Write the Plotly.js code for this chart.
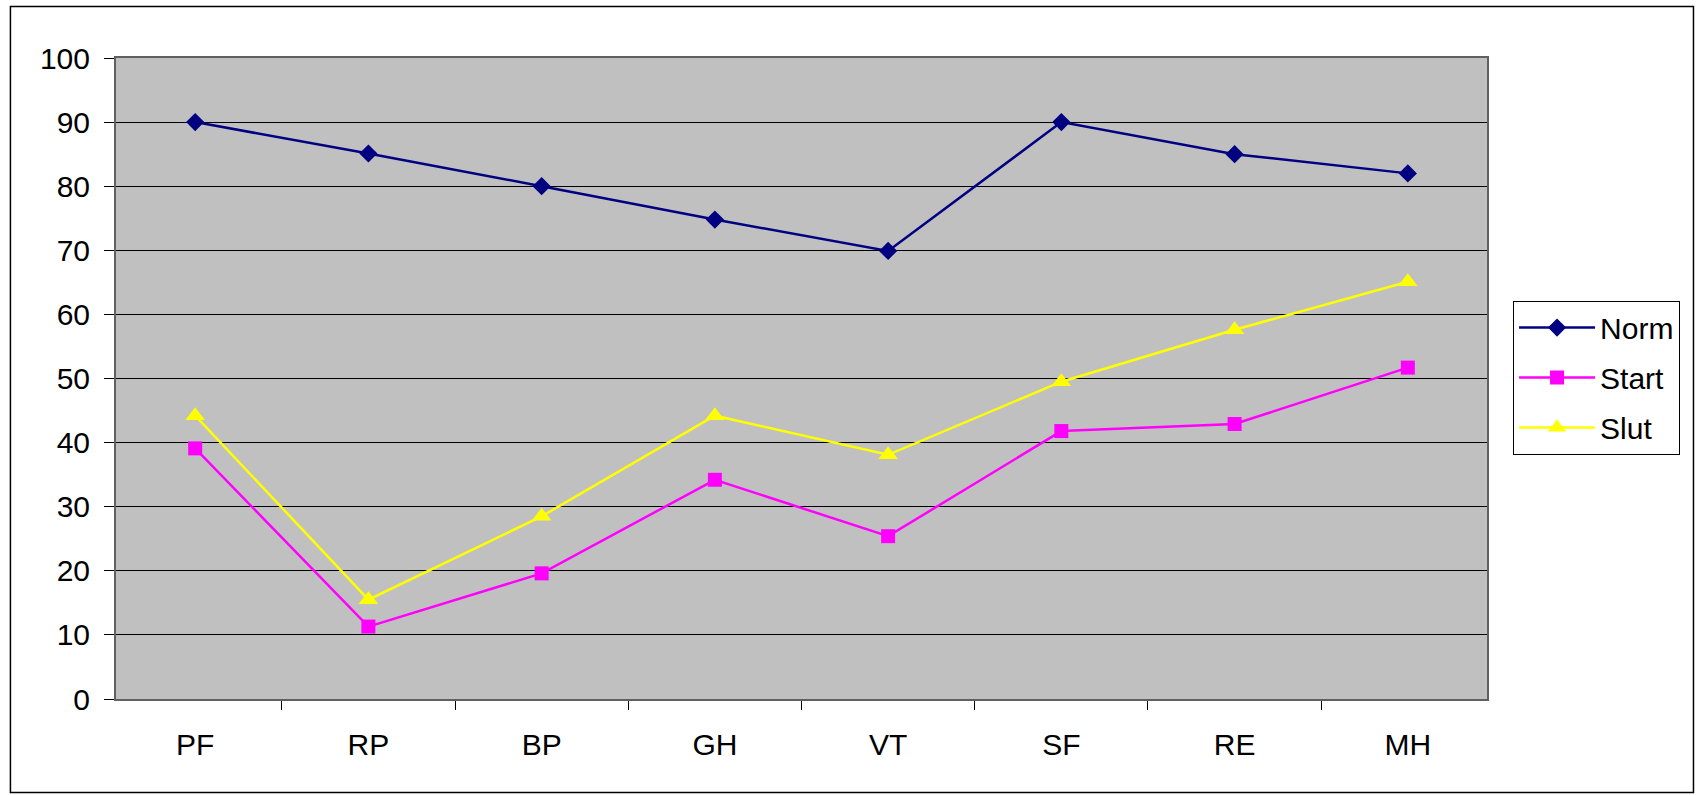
<!DOCTYPE html>
<html>
<head>
<meta charset="utf-8">
<script src="https://cdn.plot.ly/plotly-3.0.1.min.js"></script>
<style>html,body{margin:0;padding:0;background:#fff;}#chart{width:1696px;height:795px;}</style>
</head>
<body>
<div id="chart"></div>
<script>
var categories = ["PF", "RP", "BP", "GH", "VT", "SF", "RE", "MH"];
var normValues = [90, 85.1, 80, 74.8, 69.9, 90, 85, 82];
var startValues = [39.1, 11.3, 19.6, 34.2, 25.4, 41.8, 42.9, 51.7];
var slutValues = [44.2, 15.5, 28.5, 44.2, 38.1, 49.5, 57.6, 65.1];
var yTicks = [0, 10, 20, 30, 40, 50, 60, 70, 80, 90, 100];

var FONT = "Liberation Sans, Arial, sans-serif";

var traces = [
  {x: categories, y: normValues, name: "Norm", type: "scatter", mode: "lines+markers", legendgroup: "a",
   line: {color: "#000080", width: 2.5}, marker: {symbol: "diamond", size: 14, color: "#000080"}},
  {x: categories, y: startValues, name: "Start", type: "scatter", mode: "lines+markers", legendgroup: "b",
   line: {color: "#FF00FF", width: 2.5}, marker: {symbol: "square", size: 14, color: "#FF00FF"}},
  {x: categories, y: slutValues, name: "Slut", type: "scatter", mode: "lines+markers", legendgroup: "c",
   line: {color: "#FFFF00", width: 2.5}, marker: {symbol: "triangle-up", size: 17, color: "#FFFF00"}}
];

var layout = {
  width: 1696, height: 795,
  margin: {l: 116, r: 209, t: 58, b: 96, pad: 0},
  paper_bgcolor: "#FFFFFF",
  plot_bgcolor: "#C0C0C0",
  font: {family: FONT, size: 30, color: "#000000"},
  showlegend: true,
  legend: {
    x: 1.019, xanchor: "left", y: 0.6215, yanchor: "top",
    bgcolor: "#FFFFFF", bordercolor: "#000000", borderwidth: 1,
    font: {family: FONT, size: 30, color: "#000000"},
    traceorder: "grouped", tracegroupgap: 8, itemwidth: 76
  },
  xaxis: {
    type: "category", tickson: "boundaries", ticks: "outside", ticklen: 9, tickcolor: "#000000",
    showline: true, linecolor: "#606060", linewidth: 2, mirror: true,
    showgrid: false, zeroline: false, fixedrange: true,
    tickfont: {family: FONT, size: 30, color: "#000000"}, ticklabelstandoff: 18
  },
  yaxis: {
    range: [0, 100], tickvals: yTicks, ticks: "outside", ticklen: 10, tickcolor: "#000000",
    showline: true, linecolor: "#606060", linewidth: 2, mirror: true,
    showgrid: true, gridcolor: "#000000", gridwidth: 1, zeroline: false, fixedrange: true,
    tickfont: {family: FONT, size: 30, color: "#000000"}, ticklabelstandoff: 8
  },
  shapes: [
    {type: "rect", xref: "paper", yref: "paper", x0: -0.077, x1: 1.1506, y0: -0.146, y1: 1.0803,
     line: {color: "#000000", width: 1.5}, fillcolor: "rgba(0,0,0,0)", layer: "below"}
  ]
};

Plotly.newPlot("chart", traces, layout, {displayModeBar: false, staticPlot: true});
</script>
</body>
</html>
